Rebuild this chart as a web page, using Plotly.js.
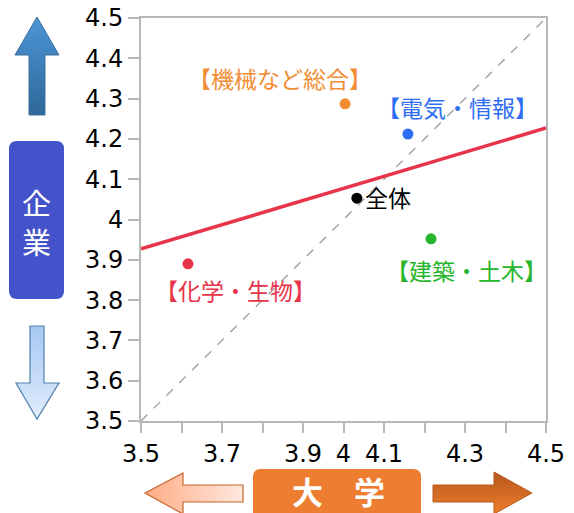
<!DOCTYPE html>
<html>
<head>
<meta charset="utf-8">
<script src="https://cdn.plot.ly/plotly-3.0.1.min.js"></script>
<style>html,body{margin:0;padding:0;background:#fff;}#chart{width:574px;height:513px;}</style>
</head>
<body>
<div id="chart"></div>
<script>
// ---- data ----
const categories = ['【機械など総合】', '【電気・情報】', '全体', '【建築・土木】', '【化学・生物】'];
const univScore = [4.004, 4.159, 4.033, 4.216, 3.616];   // 大学 (x)
const corpScore = [4.287, 4.212, 4.053, 3.952, 3.890];   // 企業 (y)
const pointColors = ['#f28d35', '#2f6ef2', '#000000', '#27b52c', '#e8344b'];
const fitX = [3.5, 4.5];
const fitY = [3.927, 4.227];
const diagX = [3.5, 4.5];
const diagY = [3.5, 4.5];
const tickVals = [3.5, 3.6, 3.7, 3.8, 3.9, 4.0, 4.1, 4.2, 4.3, 4.4, 4.5];
const xTickText = ['3.5', '', '3.7', '', '3.9', '4', '4.1', '', '4.3', '', '4.5'];
const yTickText = ['3.5', '3.6', '3.7', '3.8', '3.9', '4', '4.1', '4.2', '4.3', '4.4', '4.5'];
const yAxisChars = ['企', '業'];
const xAxisLabel = '大　学';

// ---- layout helpers (pixel -> paper) ----
const L = 141, R = 546, T = 18, B = 421;
const px = x => (x - L) / (R - L);
const py = y => (B - y) / (B - T);
function poly(pts) {
  return 'M' + pts.map(p => px(p[0]).toFixed(5) + ',' + py(p[1]).toFixed(5)).join(' L') + ' Z';
}
function rrect(x0, y0, x1, y1, r) {
  const P = (x, y) => px(x).toFixed(5) + ',' + py(y).toFixed(5);
  return 'M' + P(x0 + r, y0) + ' L' + P(x1 - r, y0) + ' Q' + P(x1, y0) + ' ' + P(x1, y0 + r) +
    ' L' + P(x1, y1 - r) + ' Q' + P(x1, y1) + ' ' + P(x1 - r, y1) +
    ' L' + P(x0 + r, y1) + ' Q' + P(x0, y1) + ' ' + P(x0, y1 - r) +
    ' L' + P(x0, y0 + r) + ' Q' + P(x0, y0) + ' ' + P(x0 + r, y0) + ' Z';
}

const labelShifts = [[-65, 26], [50, 27], [31, 1], [36, -31], [48, -26]];

const traces = [
  {x: diagX, y: diagY, mode: 'lines', line: {color: '#a6a6a6', width: 1.5, dash: 'dash'}, hoverinfo: 'skip'},
  {x: fitX, y: fitY, mode: 'lines', line: {color: '#e8344b', width: 3.5}, hoverinfo: 'skip'},
  {x: univScore, y: corpScore, mode: 'markers', text: categories,
   marker: {color: pointColors, size: 11}, cliponaxis: false}
];

const annotations = categories.map((c, i) => ({
  x: univScore[i], y: corpScore[i], xref: 'x', yref: 'y', text: c, showarrow: false,
  xanchor: 'center', yanchor: 'middle',
  xshift: labelShifts[i][0], yshift: labelShifts[i][1],
  font: {family: 'Noto Sans CJK JP', size: 23, color: pointColors[i]}
}));
const yCharPos = [202, 241];
yAxisChars.forEach((ch, i) => annotations.push({
  x: px(37), y: py(yCharPos[i]), xref: 'paper', yref: 'paper', text: ch, showarrow: false,
  xanchor: 'center', yanchor: 'middle', borderpad: 0,
  font: {family: 'Noto Sans CJK JP', size: 29, color: '#ffffff'}}));
annotations.push({x: px(338), y: py(490), xref: 'paper', yref: 'paper', text: '<b>' + xAxisLabel + '</b>', showarrow: false,
  xanchor: 'center', yanchor: 'middle',
  font: {family: 'Noto Sans CJK JP', size: 31, color: '#ffffff'}});

const shapes = [
  // up arrow
  {type: 'path', xref: 'paper', yref: 'paper', layer: 'below',
   path: poly([[37, 17], [59, 55], [45, 55], [45, 115], [29, 115], [29, 55], [15, 55]]),
   fillcolor: '#3c7db8', line: {color: '#3a6f9e', width: 1}},
  // 企業 box
  {type: 'path', xref: 'paper', yref: 'paper', layer: 'below',
   path: rrect(9, 141, 64, 299, 8), fillcolor: '#4453c9', line: {width: 0}},
  // down arrow
  {type: 'path', xref: 'paper', yref: 'paper', layer: 'below',
   path: poly([[30, 326], [44, 326], [44, 383], [59, 383], [37, 419], [16, 383], [30, 383]]),
   fillcolor: '#c3daf6', line: {color: '#4f7fae', width: 1.2}},
  // left arrow
  {type: 'path', xref: 'paper', yref: 'paper', layer: 'below',
   path: poly([[145, 493], [183, 473], [183, 485], [243, 485], [243, 502], [183, 502], [183, 514]]),
   fillcolor: '#ffc9af', line: {color: '#c8662a', width: 1.2}},
  // 大学 box
  {type: 'path', xref: 'paper', yref: 'paper', layer: 'below',
   path: rrect(253, 469, 421, 522, 8), fillcolor: '#ed7d31', line: {width: 0}},
  // right arrow
  {type: 'path', xref: 'paper', yref: 'paper', layer: 'below',
   path: poly([[433, 485], [494, 485], [494, 472], [532, 493], [494, 514], [494, 502], [433, 502]]),
   fillcolor: '#d0681f', line: {color: '#b85a20', width: 1}}
];

const axisCommon = {
  range: [3.5, 4.5], tickvals: tickVals, showgrid: false, zeroline: false,
  showline: true, mirror: true, linecolor: '#b8b8b8', linewidth: 2,
  ticks: 'outside', tickcolor: '#b8b8b8', tickwidth: 2,
  tickfont: {family: 'DejaVu Sans', size: 24, color: '#000'}, fixedrange: true
};

const layout = {
  width: 574, height: 513,
  margin: {l: L, r: 574 - R, t: T, b: 513 - B, pad: 0},
  paper_bgcolor: '#ffffff', plot_bgcolor: '#ffffff',
  showlegend: false,
  xaxis: Object.assign({}, axisCommon, {ticktext: xTickText, ticklen: 10}),
  yaxis: Object.assign({}, axisCommon, {ticktext: yTickText, ticklen: 11}),
  annotations: annotations,
  shapes: shapes
};

Plotly.newPlot('chart', traces, layout, {staticPlot: true}).then(gd => {
  // apply gradients to decorative arrows
  const svg = gd.querySelector('svg.main-svg');
  const ns = 'http://www.w3.org/2000/svg';
  let defs = svg.querySelector('defs');
  if (!defs) { defs = document.createElementNS(ns, 'defs'); svg.insertBefore(defs, svg.firstChild); }
  const grads = {
    0: {id: 'gUp', x2: 0, y2: 1, stops: ['#4c95d6', '#2f6899']},
    2: {id: 'gDown', x2: 0, y2: 1, stops: ['#a6c8f2', '#e0ecfb']},
    3: {id: 'gLeft', x2: 1, y2: 0, stops: ['#ffac85', '#ffe8de']},
    5: {id: 'gRight', x2: 0, y2: 1, stops: ['#b5561c', '#f07e2c']}
  };
  Object.keys(grads).forEach(k => {
    const g = grads[k];
    const lg = document.createElementNS(ns, 'linearGradient');
    lg.setAttribute('id', g.id);
    lg.setAttribute('x1', 0); lg.setAttribute('y1', 0);
    lg.setAttribute('x2', g.x2); lg.setAttribute('y2', g.y2);
    g.stops.forEach((c, j) => {
      const s = document.createElementNS(ns, 'stop');
      s.setAttribute('offset', j);
      s.setAttribute('stop-color', c);
      lg.appendChild(s);
    });
    defs.appendChild(lg);
  });
  const paths = gd.querySelectorAll('.shapelayer path');
  paths.forEach(p => {
    const idx = p.getAttribute('data-index');
    if (grads[idx]) p.style.fill = 'url(#' + grads[idx].id + ')';
  });
});
</script>
</body>
</html>
